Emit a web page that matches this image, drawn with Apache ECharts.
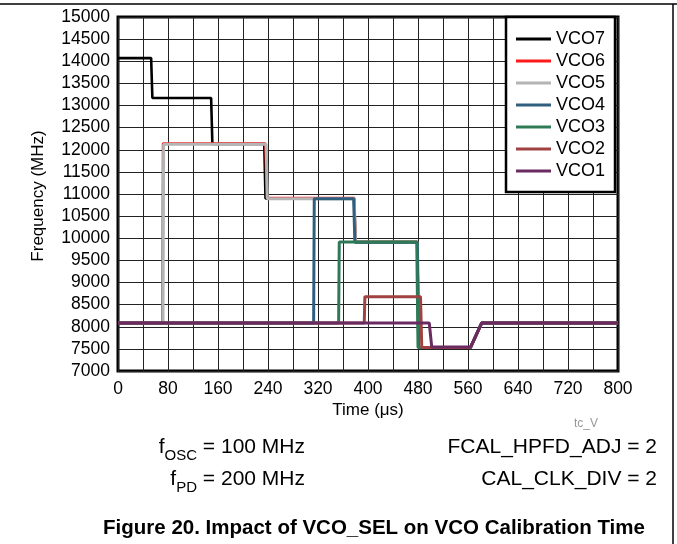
<!DOCTYPE html>
<html>
<head>
<meta charset="utf-8">
<script src="https://cdn.jsdelivr.net/npm/echarts@6/dist/echarts.min.js"></script>
<style>
html,body{margin:0;padding:0;background:#fff;}
#c{width:677px;height:544px;}
</style>
</head>
<body>
<div id="c"></div>
<script>
// ---- data ----
const seriesNames = ['VCO7','VCO6','VCO5','VCO4','VCO3','VCO2','VCO1'];
const xTicks = [0,80,160,240,320,400,480,560,640,720,800];
const yTicks = [7000,7500,8000,8500,9000,9500,10000,10500,11000,11500,12000,12500,13000,13500,14000,14500,15000];

const vco7T = [0,53,55,149,151,234,236,378,380,479,481,564,582,800];
const vco7F = [14070,14070,13170,13170,12130,12130,10900,10900,9910,9910,7530,7530,8085,8085];
const vco6T = [0,71,72,236,238,378,380,479,481,564,582,800];
const vco6F = [8085,8085,12140,12140,10910,10910,9920,9920,7530,7530,8085,8085];
const vco5T = [0,72,73,237,239,378,380,479,481,564,582,800];
const vco5F = [8085,8085,12125,12125,10895,10895,9910,9910,7530,7530,8085,8085];
const vco4T = [0,313,314,377,379,479,481,564,582,800];
const vco4F = [8085,8085,10890,10890,9910,9910,7530,7530,8085,8085];
const vco3T = [0,353,354,478,480,564,582,800];
const vco3F = [8085,8085,9915,9915,7530,7530,8085,8085];
const vco2T = [0,394,395,484,486,564,582,800];
const vco2F = [8085,8085,8680,8680,7530,7530,8085,8085];
const vco1T = [0,498,502,564,582,800];
const vco1F = [8085,8085,7540,7540,8085,8085];

const seriesT = [vco7T,vco6T,vco5T,vco4T,vco3T,vco2T,vco1T];
const seriesF = [vco7F,vco6F,vco5F,vco4F,vco3F,vco2F,vco1F];
const colors = ['#000000','#ff1a1a','#b4b4b4','#2f5f7c','#2e7a56','#a04242','#6a2a62'];
const widths = [2.6,2.5,3,3,3,3,3];

const FONT = 'Liberation Sans, Arial, sans-serif';

const chart = echarts.init(document.getElementById('c'));
const series = seriesNames.map((n,i)=>({
  name:n, type:'line', showSymbol:false, symbol:'none', animation:false,
  data: seriesT[i].map((t,k)=>[t, seriesF[i][k]]),
  lineStyle:{color:colors[i], width:widths[i]},
  itemStyle:{color:colors[i]}
}));

const subRich = {
  m:{font:'21px '+FONT,fill:'#000',lineHeight:21,verticalAlign:'top'},
  s:{font:'15px '+FONT,fill:'#000',lineHeight:27,verticalAlign:'bottom'}
};

chart.setOption({
  animation:false,
  backgroundColor:'#fff',
  grid:{left:118,right:59,top:17,bottom:173,show:true,borderColor:'#000',borderWidth:3,backgroundColor:'transparent'},
  xAxis:{type:'value',min:0,max:800,interval:40,
    axisLine:{show:false},axisTick:{show:false},
    splitLine:{show:true,lineStyle:{color:'#222',width:1}},
    axisLabel:{margin:9,color:'#000',fontFamily:FONT,fontSize:17.5,
      formatter:v=> xTicks.indexOf(v)>=0 ? String(v) : ''}},
  yAxis:{type:'value',min:7000,max:15000,interval:500,
    axisLine:{show:false},axisTick:{show:false},
    splitLine:{show:true,lineStyle:{color:'#222',width:1}},
    axisLabel:{margin:8,color:'#000',fontFamily:FONT,fontSize:17.5,
      formatter:v=> yTicks.indexOf(v)>=0 ? String(v) : ''}},
  legend:{orient:'vertical',left:506,top:17,
    data:seriesNames.map((n,i)=>({name:n,icon:'rect',itemStyle:{color:colors[i]}})),
    itemWidth:35,itemHeight:3,itemGap:4,itemTextGap:9,
    padding:[13,10,12,10],
    backgroundColor:'#fff',borderColor:'#000',borderWidth:2.5,borderRadius:0,
    textStyle:{fontFamily:FONT,fontSize:18,color:'#000',lineHeight:17},
    selectedMode:false,z:10},
  series:series,
  graphic:[
    {type:'line',shape:{x1:0,y1:4,x2:677,y2:4},style:{stroke:'#000',lineWidth:1.5}},
    {type:'line',shape:{x1:673,y1:4,x2:673,y2:544},style:{stroke:'#000',lineWidth:1.5}},
    {type:'text',x:38,y:196,rotation:Math.PI/2,style:{text:'Frequency (MHz)',font:'17px '+FONT,fill:'#000',align:'center',verticalAlign:'middle'}},
    {type:'text',x:368,y:410,style:{text:'Time (\u03bcs)',font:'17px '+FONT,fill:'#000',align:'center',verticalAlign:'middle'}},
    {type:'text',x:598,y:424,style:{text:'tc_V',font:'12px '+FONT,fill:'#999',align:'right',verticalAlign:'middle'}},
    {type:'text',x:305,y:436.5,style:{text:'{m|f}{s|OSC}{m| = 100 MHz}',align:'right',verticalAlign:'top',rich:subRich}},
    {type:'text',x:305,y:468.5,style:{text:'{m|f}{s|PD}{m| = 200 MHz}',align:'right',verticalAlign:'top',rich:subRich}},
    {type:'text',x:657,y:447,style:{text:'FCAL_HPFD_ADJ = 2',font:'21px '+FONT,fill:'#000',align:'right',verticalAlign:'middle'}},
    {type:'text',x:657,y:479,style:{text:'CAL_CLK_DIV = 2',font:'21px '+FONT,fill:'#000',align:'right',verticalAlign:'middle'}},
    {type:'text',x:374,y:528,style:{text:'Figure 20. Impact of VCO_SEL on VCO Calibration Time',font:'bold 20.5px '+FONT,fill:'#000',align:'center',verticalAlign:'middle'}}
  ]
});
</script>
</body>
</html>
